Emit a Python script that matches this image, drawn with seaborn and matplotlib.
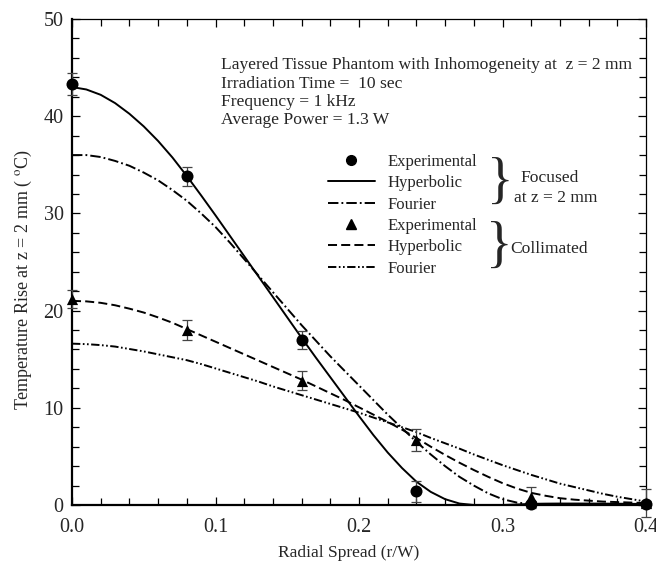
import numpy as np
import pandas as pd
import seaborn as sns
import matplotlib
matplotlib.use("Agg")
import matplotlib.pyplot as plt
from matplotlib.lines import Line2D
from matplotlib.ticker import MultipleLocator, FormatStrFormatter

# ---------------- data ----------------
r_exp = [0.00, 0.08, 0.16, 0.24, 0.32, 0.40]
foc_exp = [43.3, 33.8, 17.0, 1.4, 0.1, 0.1]
foc_err = [1.1, 0.95, 0.95, 1.1, 0.3, 0.3]
col_exp = [21.2, 18.0, 12.8, 6.7, 0.8, 0.2]
col_err = [0.9, 1.0, 0.95, 1.1, 1.1, 1.4]

r_curve = [0.00, 0.01, 0.02, 0.03, 0.04, 0.05, 0.06, 0.07, 0.08, 0.09, 0.10,
           0.11, 0.12, 0.13, 0.14, 0.15, 0.16, 0.17, 0.18, 0.19, 0.20,
           0.21, 0.22, 0.23, 0.24, 0.25, 0.26, 0.27, 0.28, 0.29, 0.30,
           0.31, 0.32, 0.33, 0.34, 0.35, 0.36, 0.37, 0.38, 0.39, 0.40]
foc_hyp = [43.0, 42.75, 42.2, 41.35, 40.25, 38.95, 37.45, 35.75, 33.85, 31.85, 29.8,
           27.7, 25.6, 23.5, 21.4, 19.3, 17.2, 15.15, 13.15, 11.15, 9.15,
           7.2, 5.4, 3.8, 2.4, 1.35, 0.6, 0.15, 0.0, 0.0, 0.0,
           0.05, 0.12, 0.14, 0.15, 0.15, 0.15, 0.14, 0.13, 0.12, 0.1]
foc_four = [36.0, 36.0, 35.8, 35.4, 34.9, 34.2, 33.4, 32.4, 31.3, 30.0, 28.6,
            27.0, 25.3, 23.6, 21.9, 20.2, 18.5, 16.9, 15.3, 13.8, 12.3,
            10.8, 9.3, 7.9, 6.5, 5.2, 4.0, 2.9, 2.0, 1.2, 0.6,
            0.25, 0.1, 0.05, 0.05, 0.05, 0.05, 0.05, 0.05, 0.05, 0.05]
col_hyp = [21.0, 20.95, 20.8, 20.55, 20.2, 19.8, 19.3, 18.75, 18.1, 17.45, 16.8,
           16.15, 15.5, 14.85, 14.2, 13.55, 12.9, 12.2, 11.5, 10.8, 10.05,
           9.3, 8.55, 7.75, 6.9, 6.0, 5.15, 4.35, 3.6, 2.9, 2.25,
           1.7, 1.25, 0.95, 0.7, 0.55, 0.45, 0.35, 0.3, 0.25, 0.2]
col_four = [16.6, 16.55, 16.45, 16.3, 16.05, 15.8, 15.5, 15.2, 14.9, 14.5, 14.05,
            13.6, 13.15, 12.7, 12.2, 11.75, 11.3, 10.85, 10.4, 9.95, 9.5,
            9.0, 8.5, 8.0, 7.5, 6.9, 6.35, 5.8, 5.2, 4.65, 4.1,
            3.6, 3.1, 2.65, 2.2, 1.85, 1.5, 1.15, 0.85, 0.6, 0.35]

legend_labels = ["Experimental", "Hyperbolic", "Fourier",
                 "Experimental", "Hyperbolic", "Fourier"]
info_lines = ["Layered Tissue Phantom with Inhomogeneity at  z = 2 mm",
              "Irradiation Time =  10 sec",
              "Frequency = 1 kHz",
              "Average Power = 1.3 W"]

# ---------------- style ----------------
sns.set_style("ticks")
plt.rcParams["font.family"] = ["Liberation Serif", "DejaVu Serif"]
plt.rcParams["mathtext.fontset"] = "stix"
plt.rcParams["lines.scale_dashes"] = False

W, H = 656, 562
fig = plt.figure(figsize=(W / 100, H / 100), dpi=100)
ax = fig.add_axes([72 / W, 1 - 505 / H, 574 / W, 486 / H])

def fx(px):
    return px / W

def fy(py):
    return 1 - py / H

ls_foc_four = (0, (7.5, 2.2, 1.3, 2.2))
ls_col_hyp = (0, (6.5, 3.0))
ls_col_four = (0, (6, 1.8, 1.2, 1.8, 1.2, 1.8))

df = pd.DataFrame({"r": r_curve, "foc_hyp": foc_hyp, "foc_four": foc_four,
                   "col_hyp": col_hyp, "col_four": col_four})

lw = 1.4
sns.lineplot(data=df, x="r", y="foc_hyp", ax=ax, color="black", lw=lw, ls="-")
sns.lineplot(data=df, x="r", y="foc_four", ax=ax, color="black", lw=lw, ls=ls_foc_four)
sns.lineplot(data=df, x="r", y="col_hyp", ax=ax, color="black", lw=lw, ls=ls_col_hyp)
sns.lineplot(data=df, x="r", y="col_four", ax=ax, color="black", lw=lw, ls=ls_col_four)

for yv, ev in [(foc_exp, foc_err), (col_exp, col_err)]:
    eb = ax.errorbar(r_exp, yv, yerr=ev, fmt="none", ecolor="#444444",
                     elinewidth=0.9, capsize=3.4, capthick=0.9, zorder=3)
    for art in eb.lines[1] + eb.lines[2]:
        art.set_clip_on(False)
sns.scatterplot(x=r_exp, y=foc_exp, ax=ax, marker="o", color="black", s=75,
                edgecolor="black", linewidth=0, zorder=4, clip_on=False)
sns.scatterplot(x=r_exp, y=col_exp, ax=ax, marker="^", color="black", s=65,
                edgecolor="black", linewidth=0, zorder=4, clip_on=False)

ax.set_xlim(0, 0.4)
ax.set_ylim(0, 50)
ax.xaxis.set_major_locator(MultipleLocator(0.1))
ax.xaxis.set_minor_locator(MultipleLocator(0.02))
ax.yaxis.set_major_locator(MultipleLocator(10))
ax.yaxis.set_minor_locator(MultipleLocator(2))
ax.xaxis.set_major_formatter(FormatStrFormatter("%.1f"))
ax.tick_params(which="both", direction="in", top=True, right=True,
               color="black", width=0.9)
ax.tick_params(which="major", length=6, labelsize=14.5, pad=6)
ax.tick_params(which="minor", length=5)
ax.tick_params(axis="x", which="major", pad=9)

for side in ["left", "bottom"]:
    ax.spines[side].set_linewidth(1.6)
for side in ["top", "right"]:
    ax.spines[side].set_linewidth(0.9)
for s in ax.spines.values():
    s.set_color("black")

ax.set_xlabel("Radial Spread (r/W)", fontsize=12.5)
ax.set_ylabel(r"Temperature Rise at z = 2 mm ( $^{\mathrm{o}}$C)", fontsize=13)
ax.xaxis.set_label_coords((349 - 72) / 574, (505 - 557) / 486)
ax.yaxis.set_label_coords((23 - 72) / 574, (505 - 280) / 486)
ax.xaxis.label.set_va("baseline")
ax.yaxis.label.set_va("center")

# info text block
baselines = [69, 88, 106, 124]
for txt, b in zip(info_lines, baselines):
    fig.text(fx(221), fy(b), txt, fontsize=12.6, va="baseline", ha="left")

# legend
handles = [
    Line2D([], [], color="black", marker="o", ls="none", markersize=7),
    Line2D([], [], color="black", lw=lw, ls="-"),
    Line2D([], [], color="black", lw=lw, ls=ls_foc_four),
    Line2D([], [], color="black", marker="^", ls="none", markersize=7),
    Line2D([], [], color="black", lw=lw, ls=ls_col_hyp),
    Line2D([], [], color="black", lw=lw, ls=ls_col_four),
]
leg = ax.legend(handles, legend_labels, loc="upper left",
                bbox_to_anchor=(fx(328), fy(154)), bbox_transform=fig.transFigure,
                frameon=False, fontsize=12, handlelength=2.8, handletextpad=0.8,
                labelspacing=0.32, borderpad=0, borderaxespad=0)

# braces and group labels
fig.text(fx(500), fy(184), "}", fontsize=40, ha="center", va="center")
fig.text(fx(499), fy(248), "}", fontsize=40, ha="center", va="center")
fig.text(fx(550), fy(178), "Focused", fontsize=12.6, ha="center", va="center")
fig.text(fx(556), fy(198), "at z = 2 mm", fontsize=12.6, ha="center", va="center")
fig.text(fx(549), fy(249), "Collimated", fontsize=12.6, ha="center", va="center")

fig.savefig("out.png", dpi=100)
